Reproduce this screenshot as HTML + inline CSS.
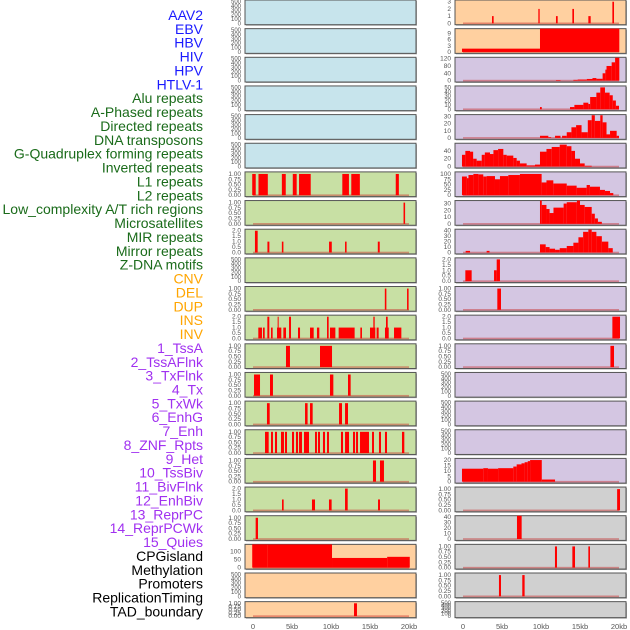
<!DOCTYPE html>
<html><head><meta charset="utf-8"><style>
html,body{margin:0;padding:0;background:#fff;}
svg{display:block;font-family:"Liberation Sans",sans-serif;}
</style></head><body>
<svg id="chart" width="630" height="630" viewBox="0 0 630 630"></svg>
<script>
const labels=["AAV2","EBV","HBV","HIV","HPV","HTLV-1","Alu repeats","A-Phased repeats","Directed repeats","DNA transposons","G-Quadruplex forming repeats","Inverted repeats","L1 repeats","L2 repeats","Low_complexity A/T rich regions","Microsatellites","MIR repeats","Mirror repeats","Z-DNA motifs","CNV","DEL","DUP","INS","INV","1_TssA","2_TssAFlnk","3_TxFlnk","4_Tx","5_TxWk","6_EnhG","7_Enh","8_ZNF_Rpts","9_Het","10_TssBiv","11_BivFlnk","12_EnhBiv","13_ReprPC","14_ReprPCWk","15_Quies","CPGisland","Methylation","Promoters","ReplicationTiming","TAD_boundary"];
const labelGroups=[6,13,5,15,5];
const groupColors=["#1a1aff","#1a6b1a","#ffa500","#a030f0","#000000"];
const xTicks=[0,5,10,15,20];
const xTickLabels=["0","5kb","10kb","15kb","20kb"];
const ticksEmpty=["0","100","200","300","400","500"];
const ticksUnit=["0.00","0.25","0.50","0.75","1.00"];
const ticksTwo=["0.0","0.5","1.0","1.5","2.0"];
// segments: [startKb, endKb, value]
const L6=[[-0.1,0.35,1],[0.7,1.9,1],[3.7,4.2,1],[5.1,5.6,1],[5.9,7.4,1],[11.45,12.3,1],[12.6,13.7,1],[18.3,18.7,1]];
const L7=[[19.3,19.5,1]];
const L8=[[0.25,0.6,2],[1.85,2.1,1],[3.7,3.9,1],[9.75,10.1,1],[11.8,12.0,1],[16.0,16.25,1]];
const L10=[[16.9,17.1,1],[19.75,19.95,1]];
const L11=[[0.68,1.15,1],[1.28,1.5,1],[1.84,2.09,2],[2.31,2.52,1],[3.08,3.63,1],[3.16,3.29,2],[3.89,4.23,1],[4.62,4.87,2],[5.77,6.03,1],[7.31,7.78,1],[8.2,8.5,1],[9.49,9.7,2],[9.87,10.56,1],[10.98,13.03,1],[13.76,13.97,1],[15.0,15.68,1],[15.43,15.6,2],[15.85,16.11,1],[16.92,17.4,1],[17.05,17.27,2],[18.08,19.02,1]];
const L12=[[4.23,4.74,1],[8.59,10.13,1]];
const L13=[[0.13,0.9,1],[2.18,2.56,1],[9.87,10.3,1],[12.18,12.52,1]];
const L14=[[1.79,2.14,1],[6.67,7.0,1],[7.31,7.65,1],[11.03,11.41,1],[11.8,12.18,1]];
const L15=[[1.54,2.01,1],[2.31,2.56,1],[2.82,3.08,1],[3.59,3.97,1],[4.1,4.36,1],[5.0,5.26,1],[5.51,5.77,1],[5.9,6.28,1],[6.54,7.18,1],[7.95,8.2,1],[8.33,8.59,1],[8.97,9.23,1],[9.49,9.74,1],[11.28,11.54,1],[11.8,12.31,1],[12.82,13.08,1],[13.21,13.46,1],[13.72,14.87,1],[15.26,15.51,1],[16.15,16.41,1],[16.92,17.18,1],[19.1,19.4,1]];
const L16=[[15.38,15.77,1],[16.28,16.79,1]];
const L17=[[3.72,3.93,1],[7.56,7.95,1],[9.74,10.08,1],[11.8,12.14,2],[16.03,16.28,1]];
const L18=[[0.34,0.64,1]];
const L19=[[-0.1,1.9,150],[1.9,10.13,145],[10.13,17.2,60],[17.2,20.1,67]];
const L21=[[12.95,13.33,1]];
const R0=[[3.72,3.93,1],[9.66,9.83,2],[11.92,12.14,1],[14.02,14.23,2],[16.07,16.37,1],[19.15,19.36,3]];
const R1=[[-0.13,9.87,1.6],[9.87,20.04,12]];
const R2=[[11.92,12.5,3],[14.15,14.7,4],[14.7,15.87,6],[15.87,16.6,9],[16.6,17.1,14],[17.1,17.9,10],[17.9,18.25,40],[18.25,18.4,60],[18.4,19.06,80],[19.06,19.5,100],[19.5,20.04,125]];
const R3=[[9.87,10.1,5],[13.72,14.28,5],[14.28,15.43,10],[15.43,16.07,15],[16.07,16.3,12],[16.3,17.1,28],[17.1,17.6,38],[17.6,18.2,50],[18.2,18.8,38],[18.8,19.2,32],[19.2,19.6,20],[19.6,20.0,8]];
const R4=[[9.87,10.94,3],[10.94,11.3,1],[11.8,12.5,3],[12.7,13.3,3],[13.3,13.9,8],[13.9,14.5,15],[14.5,15.2,18],[15.2,16.0,8],[16.0,16.5,25],[16.5,16.9,32],[16.9,17.6,24],[17.6,17.9,32],[17.9,18.4,22],[18.4,18.85,5],[18.85,19.7,10],[19.7,20.0,3]];
const R5=[[-0.13,0.3,30],[0.3,0.9,40],[0.9,1.3,38],[1.3,1.75,20],[1.75,2.4,15],[2.4,2.8,30],[2.8,3.46,36],[3.46,3.9,32],[3.9,4.5,42],[4.5,5.17,45],[5.17,5.6,30],[5.6,6.45,28],[6.45,6.88,22],[6.88,7.3,15],[7.3,8.16,8],[8.16,9.23,3],[9.23,9.87,5],[9.87,10.7,38],[10.7,11.37,45],[11.37,12.4,50],[12.4,13.3,56],[13.3,13.9,52],[13.9,14.36,40],[14.36,15.0,20],[15.0,15.6,8],[15.6,16.5,2]];
const R6=[[-0.13,0.5,88],[0.5,0.7,80],[0.7,1.33,95],[1.33,1.97,100],[1.97,2.6,98],[2.6,3.03,88],[3.03,4.1,90],[4.1,4.74,75],[4.74,5.81,90],[5.81,7.3,95],[7.3,10.08,100],[10.08,10.7,60],[10.7,11.58,70],[11.58,13.3,55],[13.3,14.57,45],[14.57,15.85,35],[15.85,16.27,48],[16.27,17.56,40],[17.56,18.2,25],[18.2,18.85,20],[18.85,19.27,10]];
const R7=[[9.87,10.1,35],[10.1,10.7,28],[10.7,11.1,22],[11.1,11.6,16],[11.6,12.9,24],[12.9,13.3,30],[13.3,14.6,32],[14.6,15.0,37],[15.0,15.6,28],[15.6,16.5,25],[16.5,16.9,15],[16.9,17.3,8],[17.3,17.8,3]];
const R8=[[0.34,0.9,3],[3.03,3.4,3],[9.87,10.6,15],[10.6,11.1,10],[11.1,11.8,7],[11.8,12.4,5],[12.4,13.3,8],[13.3,14.15,12],[14.15,14.8,18],[14.8,15.4,28],[15.4,16.07,38],[16.07,16.5,42],[16.5,17.1,38],[17.1,17.8,30],[17.8,18.63,20],[18.63,19.2,8]];
const R9=[[0.3,1.11,1],[3.98,4.32,1],[4.32,4.74,2]];
const R10=[[4.4,4.87,1]];
const R11=[[19.15,20.13,2]];
const R12=[[18.9,19.36,1]];
const R16=[[-0.13,2.6,12],[2.6,3.2,12.5],[3.2,4.5,12],[4.5,6.45,12.5],[6.45,6.88,14],[6.88,7.5,16],[7.5,7.9,17],[7.9,8.3,18],[8.3,8.6,19],[8.6,10.1,20],[10.1,11.8,2]];
const R17=[[19.76,20.13,1]];
const R18=[[6.92,7.52,45]];
const R19=[[11.79,12.05,1],[14.02,14.36,1],[16.07,16.28,1]];
const R20=[[4.61,4.87,1],[7.6,7.9,1]];

const BLUE="#c7e4ec",GREEN="#c8e0a4",PEACH="#ffd0a0",LAV="#d4c6e2",GREY="#d0d0d0";
const E=null;
// [bg, data, tickLabels, tickValues-scale (ymax of top tick), axisMax]
const leftPanels=[
[BLUE,E,ticksEmpty,500,510],[BLUE,E,ticksEmpty,500,510],[BLUE,E,ticksEmpty,500,510],[BLUE,E,ticksEmpty,500,510],[BLUE,E,ticksEmpty,500,510],[BLUE,E,ticksEmpty,500,510],
[GREEN,L6,ticksUnit,1,1.05],[GREEN,L7,ticksUnit,1,1.05],[GREEN,L8,ticksTwo,2,2.05],[GREEN,E,ticksEmpty,500,510],[GREEN,L10,ticksUnit,1,1.05],[GREEN,L11,ticksTwo,2,2.05],
[GREEN,L12,ticksUnit,1,1.05],[GREEN,L13,ticksUnit,1,1.05],[GREEN,L14,ticksUnit,1,1.05],[GREEN,L15,ticksUnit,1,1.05],[GREEN,L16,ticksUnit,1,1.05],[GREEN,L17,ticksTwo,2,2.05],[GREEN,L18,ticksUnit,1,1.05],
[PEACH,L19,["0","50","100"],100,138],[PEACH,E,ticksEmpty,500,510],[PEACH,L21,ticksUnit,1,1.05]];
const rightPanels=[
[PEACH,R0,["0","1","2","3"],3,3.1],[PEACH,R1,["0","3","6","9"],9,10.8],[LAV,R2,["0","40","80","120"],120,122],[LAV,R3,["0","10","20","30","40","50"],50,51],[LAV,R4,["0","10","20","30"],30,31.5],[LAV,R5,["0","20","40"],40,57],
[LAV,R6,["0","25","50","75","100"],100,105],[LAV,R7,["0","10","20","30"],30,33],[LAV,R8,["0","10","20","30","40"],40,41],[LAV,R9,ticksTwo,2,2.05],[LAV,R10,ticksUnit,1,1.05],[LAV,R11,ticksTwo,2,2.05],
[LAV,R12,ticksUnit,1,1.05],[LAV,E,ticksEmpty,500,510],[LAV,E,ticksEmpty,500,510],[LAV,E,ticksEmpty,500,510],[LAV,R16,["0","5","10","15","20"],20,20.6],[GREY,R17,ticksUnit,1,1.05],[GREY,R18,["0","10","20","30","40"],40,41],
[GREY,R19,ticksUnit,1,1.05],[GREY,R20,ticksUnit,1,1.05],[GREY,E,ticksEmpty,500,510]];

const svg=document.getElementById('chart');
const NS="http://www.w3.org/2000/svg";
function mk(tag,attrs,parent){const e=document.createElementNS(NS,tag);for(const k in attrs)e.setAttribute(k,attrs[k]);(parent||svg).appendChild(e);return e;}

// labels
let li=0;
labelGroups.forEach((n,g)=>{for(let k=0;k<n;k++){const t=mk('text',{x:203,y:20+li*13.87,'text-anchor':'end','font-size':14,fill:groupColors[g]});


t.textContent=labels[li];li++;}});

const ROWH=28.65;
function drawPanel(colX,zeroX,row,p,side){
  const [bg,data,tl,topTick,axMax]=p;
  const T=row*ROWH;const last=row===21;
  const H=last?16:24.7;
  const zeroY=T+(last?14.5:23.3);const span=last?13.5:22.3;
  const xs=kb=>zeroX+kb*7.8;
  const ys=v=>zeroY-Math.min(v,axMax*1.1)/axMax*span;
  const g=mk('g',{});
  
  
  mk('rect',{x:colX+1,y:T+1,width:171,height:H,fill:'#aaa'},g);
  mk('rect',{x:colX,y:T,width:171,height:H,fill:bg,stroke:'#555',"stroke-width":1},g);
  const cid='c'+side+row;
  const cp=mk('clipPath',{id:cid},g);mk('rect',{x:colX,y:T,width:171,height:H},cp);
  const inner=mk('g',{'clip-path':'url(#'+cid+')'},g);
  if(data){
    mk('rect',{x:xs(0),y:zeroY-0.8,width:xs(20)-xs(0),height:1.6,fill:'rgba(200,40,40,0.45)'},inner);
    data.forEach(d=>{const r=mk('rect',{x:xs(d[0]),y:ys(d[2]),width:Math.max(0.8,xs(d[1])-xs(d[0])),height:zeroY-ys(d[2]),fill:'#ff0000'},inner);
      
      });
  }
  const n=tl.length;
  tl.forEach((s,i)=>{const v=topTick*i/(n-1);
    const t=mk('text',{x:colX-4,y:(zeroY-v/axMax*span)+2,'text-anchor':'end','font-size':n>5?6:6.5,fill:'#555'},g);
    
    
    t.textContent=s;});
}
leftPanels.forEach((p,i)=>drawPanel(245,253,i,p,'left'));
rightPanels.forEach((p,i)=>drawPanel(455,463,i,p,'right'));
[253,463].forEach(z=>xTicks.forEach((k,i)=>{const t=mk('text',{x:z+k*7.8,y:629,'text-anchor':'middle','font-size':7.5,fill:'#555'});
  
  
  t.textContent=xTickLabels[i];}));
</script>
</body></html>
